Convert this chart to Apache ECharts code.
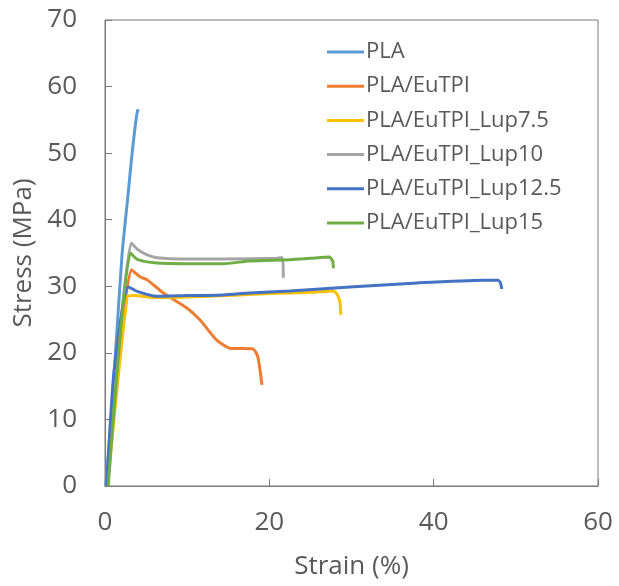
<!DOCTYPE html>
<html>
<head>
<meta charset="utf-8">
<script src="https://cdn.jsdelivr.net/npm/echarts@6/dist/echarts.min.js"></script>
<style>
html,body{margin:0;padding:0;background:#fff;}
#c{width:619px;height:586px;}
</style>
</head>
<body>
<div id="c"></div>
<script>
// Series names
const seriesNames = ["PLA", "PLA/EuTPI", "PLA/EuTPI_Lup7.5", "PLA/EuTPI_Lup10", "PLA/EuTPI_Lup12.5", "PLA/EuTPI_Lup15"];
const seriesColors = ["#5B9BD5", "#ED7D31", "#FFC000", "#A5A5A5", "#4472C4", "#70AD47"];

// Strain (%) and Stress (MPa) values
const plaStrain = [0.1, 0.6, 1.2, 2.07, 2.8, 3.3, 3.65, 3.9, 4.05];
const plaStress = [0, 8, 18.5, 34.7, 43.7, 50, 53.8, 56, 56.6];

const eutpiStrain = [0.3, 3.2, 4.3, 5.1, 7.1, 10, 11.6, 13.6, 15.2, 18, 18.6, 19.1];
const eutpiStress = [0, 32.5, 31.4, 31.0, 29.0, 26.7, 24.9, 21.9, 20.7, 20.6, 19.4, 15.2];

const lup75Strain = [0.3, 2.7, 3.5, 6, 10, 15, 20, 25, 27.8, 28.3, 28.6, 28.7];
const lup75Stress = [0, 28.4, 28.6, 28.3, 28.4, 28.6, 28.9, 29.1, 29.3, 28.7, 27.5, 25.7];

const lup10Strain = [0.3, 3.2, 4, 5, 6.3, 10, 14.4, 20.9, 21.6, 21.7];
const lup10Stress = [0, 36.5, 35.5, 34.8, 34.3, 34.1, 34.1, 34.2, 34.3, 31.3];

const lup125Strain = [0.2, 1.0, 1.8, 2.4, 2.8, 4, 6.3, 10, 14.4, 17.6, 22.5, 29.8, 38, 46, 47.8, 48.1, 48.3];
const lup125Stress = [0, 15.9, 24, 28.5, 29.9, 29.2, 28.5, 28.6, 28.7, 29.0, 29.3, 29.9, 30.5, 30.9, 30.9, 30.6, 29.6];

const lup15Strain = [0.4, 3.1, 4, 6.3, 10, 14.4, 17.6, 22.5, 25, 27.3, 27.7, 27.8];
const lup15Stress = [0, 35.0, 34.0, 33.5, 33.4, 33.4, 33.8, 34.0, 34.2, 34.4, 33.8, 32.7];

const xTicks = [0, 20, 40, 60];
const yTicks = [0, 10, 20, 30, 40, 50, 60, 70];

const strainSets = [plaStrain, eutpiStrain, lup75Strain, lup10Strain, lup125Strain, lup15Strain];
const stressSets = [plaStress, eutpiStress, lup75Stress, lup10Stress, lup125Stress, lup15Stress];

const FONT = "'Open Sans', sans-serif";
const TXT = "#595959";
const AX = "#7a7a7a";

const chart = echarts.init(document.getElementById('c'), null, {renderer: 'canvas'});
chart.setOption({
  backgroundColor: '#ffffff',
  animation: false,
  grid: {left: 105, right: 21, top: 20, bottom: 100, show: true, borderColor: AX, borderWidth: 1},
  legend: {
    orient: 'vertical', left: 322, top: 35,
    itemWidth: 37, itemHeight: 3, itemGap: 10.2, icon: 'rect',
    textStyle: {fontFamily: FONT, fontSize: 22, color: TXT, lineHeight: 24, padding: [0, 0, 0, -3]},
    data: seriesNames
  },
  xAxis: {
    type: 'value', min: xTicks[0], max: xTicks[xTicks.length - 1], interval: 20,
    name: 'Strain (%)', nameLocation: 'middle', nameGap: 68,
    nameTextStyle: {fontFamily: FONT, fontSize: 26, color: TXT},
    axisLine: {show: true, lineStyle: {color: AX, width: 1}},
    axisTick: {show: true, inside: true, length: 7, lineStyle: {color: AX}},
    axisLabel: {fontFamily: FONT, fontSize: 26, color: TXT, margin: 24},
    splitLine: {show: false}
  },
  yAxis: {
    type: 'value', min: yTicks[0], max: yTicks[yTicks.length - 1], interval: 10,
    name: 'Stress (MPa)', nameLocation: 'middle', nameGap: 67, nameRotate: 90,
    nameTextStyle: {fontFamily: FONT, fontSize: 26, color: TXT},
    axisLine: {show: true, lineStyle: {color: AX, width: 1}},
    axisTick: {show: true, inside: true, length: 7, lineStyle: {color: AX}},
    axisLabel: {fontFamily: FONT, fontSize: 26, color: TXT, margin: 28},
    splitLine: {show: false}
  },
  series: seriesNames.map((n, i) => ({
    name: n, type: 'line', showSymbol: false, symbol: 'none',
    smooth: 0.2,
    lineStyle: {color: seriesColors[i], width: 3},
    itemStyle: {color: seriesColors[i]},
    data: strainSets[i].map((x, k) => [x, stressSets[i][k]])
  }))
});
</script>
</body>
</html>
